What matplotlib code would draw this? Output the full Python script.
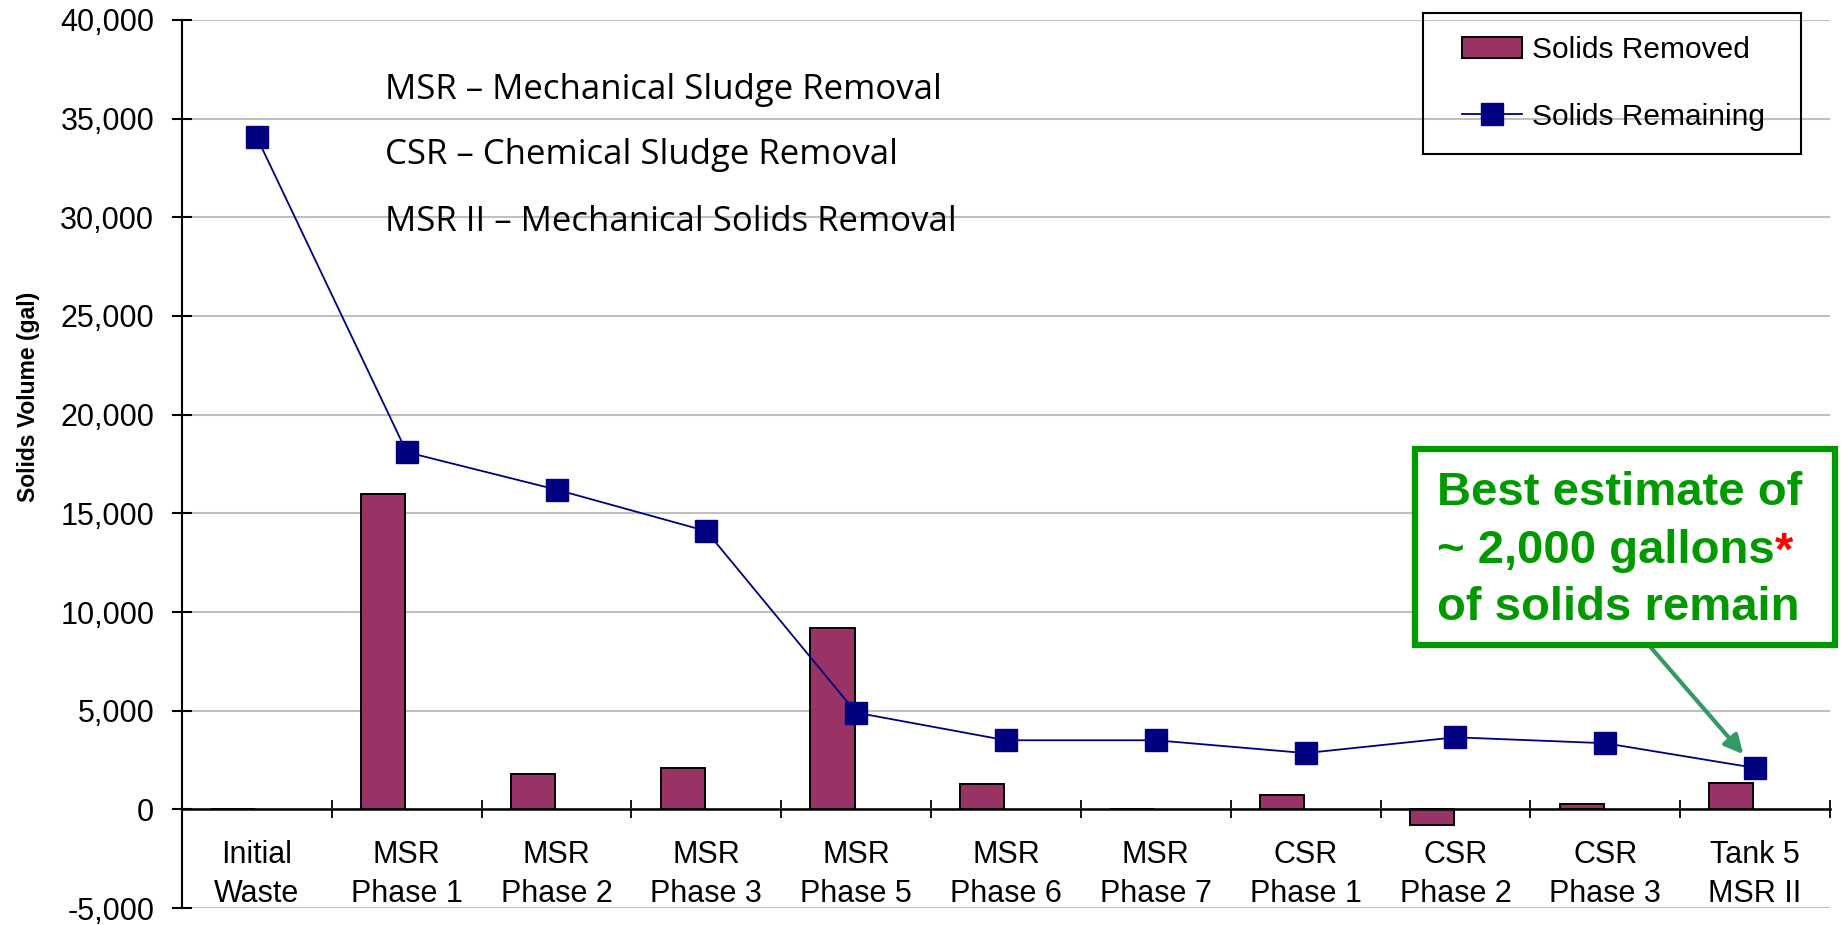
import matplotlib
matplotlib.use("Agg")
import matplotlib.pyplot as plt
from matplotlib.patches import Rectangle, Patch
from matplotlib.lines import Line2D
from matplotlib.text import Annotation
from matplotlib.ticker import FuncFormatter, FixedLocator

plt.rcParams['font.family'] = ['Liberation Sans', 'DejaVu Sans']

categories = ["Initial\nWaste", "MSR\nPhase 1", "MSR\nPhase 2", "MSR\nPhase 3", "MSR\nPhase 5",
              "MSR\nPhase 6", "MSR\nPhase 7", "CSR\nPhase 1", "CSR\nPhase 2", "CSR\nPhase 3",
              "Tank 5\nMSR II"]
solids_removed = [0, 16000, 1800, 2100, 9200, 1300, 0, 750, -800, 250, 1350]
solids_remaining = [34050, 18100, 16200, 14100, 4900, 3500, 3500, 2850, 3650, 3350, 2100]
y_ticks = [-5000, 0, 5000, 10000, 15000, 20000, 25000, 30000, 35000, 40000]

BAR = "#993366"
NAVY = "#000080"
GREEN = "#009900"
ARROW = "#339966"

W, H = 1843, 925
fig = plt.figure(figsize=(W / 100, H / 100), dpi=100)
ax = fig.add_axes([182 / W, 1 - 908 / H, (1830 - 182) / W, (908 - 20) / H])

x = list(range(len(categories)))
bar_w = 0.294
ax.bar([i - 0.158 for i in x], solids_removed, width=bar_w, color=BAR,
       edgecolor="black", linewidth=1.4, zorder=3)
ax.plot(x, solids_remaining, color=NAVY, linewidth=1.3, marker="s", markersize=16,
        markerfacecolor=NAVY, markeredgecolor=NAVY, zorder=4)

ax.set_xlim(-0.5, len(categories) - 0.5)
ax.set_ylim(-5000, 40000)
ax.set_yticks(y_ticks)
ax.yaxis.set_major_formatter(FuncFormatter(lambda v, p: f"{int(v):,}"))
ax.grid(axis="y", color="#c0c0c0", linewidth=1.5, zorder=0)
ax.set_axisbelow(True)

for s in ["top", "right"]:
    ax.spines[s].set_visible(False)
ax.spines["left"].set_linewidth(1.5)
ax.spines["bottom"].set_linewidth(1.8)
ax.spines["bottom"].set_position(("data", 0))
ax.spines["bottom"].set_zorder(5)

ax.set_xticks(x)
ax.set_xticklabels(categories)
ax.xaxis.set_minor_locator(FixedLocator([i + 0.5 for i in x]))
ax.tick_params(axis="x", which="major", length=0, pad=22, labelsize=22)
ax.tick_params(axis="x", which="minor", direction="inout", length=13, width=1.3)
ax.tick_params(axis="y", direction="inout", length=14, width=1.5, pad=13, labelsize=22)
for lab in ax.get_xticklabels():
    lab.set_linespacing(1.4)

ax.set_ylabel("Solids Volume (gal)", fontsize=16.5, fontweight="bold")
ax.yaxis.set_label_coords((40 - 182) / 1648, (908 - 397) / 888)

# Legend (frame drawn separately for exact size)
handles = [Patch(facecolor=BAR, edgecolor="black", linewidth=1.4),
           Line2D([0], [0], color=NAVY, linewidth=1.3, marker="s", markersize=16,
                  markerfacecolor=NAVY, markeredgecolor=NAVY)]
leg = ax.legend(handles, ["Solids Removed", "Solids Remaining"], loc="upper left",
                bbox_to_anchor=(1438 / W, 1 - 12 / H), bbox_transform=fig.transFigure,
                fontsize=21.5, frameon=False, borderpad=0.8,
                labelspacing=1.3, handlelength=2.0, handletextpad=0.35, borderaxespad=0)
fig.patches.append(Rectangle((1423 / W, 1 - 154 / H), (1801 - 1423) / W, (154 - 13) / H,
                             transform=fig.transFigure, facecolor="none",
                             edgecolor="black", linewidth=1.5, zorder=6))

# Abbreviation notes
notes = ["MSR \u2013 Mechanical Sludge Removal", "CSR \u2013 Chemical Sludge Removal",
         "MSR II \u2013 Mechanical Solids Removal"]
for txt, yb in zip(notes, [99, 164, 231]):
    fig.text(385 / W, 1 - yb / H, txt, fontsize=25, family=["Open Sans", "DejaVu Sans"],
             va="baseline", ha="left", color="black")

# Annotation box
fig.patches.append(Rectangle((1415 / W, 1 - 645 / H), (1835 - 1415) / W, (645 - 449) / H,
                             transform=fig.transFigure, fill=True, facecolor="white",
                             edgecolor=GREEN, linewidth=4.5, zorder=6))
lines = ["Best estimate of", "~ 2,000 gallons", "of solids remain"]
texts = []
for txt, yb in zip(lines, [505, 563, 620]):
    t = fig.text(1437 / W, 1 - yb / H, txt, fontsize=34, fontweight="bold", color=GREEN,
                 va="baseline", ha="left", zorder=7)
    texts.append(t)
star = Annotation("*", xy=(1.0, 0.97), xycoords=texts[1], ha="left", va="top", fontsize=34,
                  fontweight="bold", color="red", annotation_clip=False, zorder=8)
fig.add_artist(star)

ax.annotate("", xy=(10, solids_remaining[10]), xycoords="data",
            xytext=(1647 / W, 1 - 643 / H), textcoords="figure fraction",
            arrowprops=dict(arrowstyle="-|>", color=ARROW, lw=3, mutation_scale=28,
                            shrinkA=0, shrinkB=13),
            annotation_clip=False, zorder=7)

fig.savefig("out.png", dpi=100)
